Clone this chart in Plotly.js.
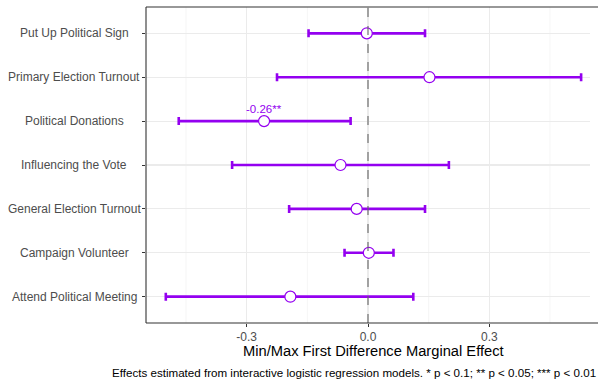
<!DOCTYPE html>
<html>
<head>
<meta charset="utf-8">
<script src="https://cdn.plot.ly/plotly-3.0.1.min.js"></script>
<style>html,body{margin:0;padding:0;background:#fff;overflow:hidden;}#chart{width:598px;height:381px;}</style>
</head>
<body>
<div id="chart"></div>
<script>
// Categories listed bottom to top
const outcomes = ["Attend Political Meeting", "Campaign Volunteer", "General Election Turnout", "Influencing the Vote", "Political Donations", "Primary Election Turnout", "Put Up Political Sign"];
const estimate = [-0.192, 0.002, -0.028, -0.068, -0.257, 0.152, -0.003];
const lower = [-0.500, -0.058, -0.195, -0.336, -0.468, -0.225, -0.147];
const upper = [0.112, 0.063, 0.141, 0.200, -0.043, 0.527, 0.141];
const sigLabels = ["", "", "", "", "-0.26**", "", ""];
const xTickVals = [-0.3, 0, 0.3];
const xTickText = ["-0.3", "0.0", "0.3"];
const minorVals = [-0.45, -0.15, 0.15, 0.45];

const purple = "#9400F0";
const plotL = 146, plotR = 590, plotT = 7, plotB = 323;
const pw = plotR - plotL, ph = plotB - plotT;
const px = v => (v - plotL) / pw;
const py = v => (plotB - v) / ph;

const yIdx = outcomes.map((_, i) => i);

const trace = {
  type: "scatter", mode: "markers",
  x: estimate, y: yIdx,
  error_x: {
    type: "data", symmetric: false,
    array: upper.map((u, i) => u - estimate[i]),
    arrayminus: lower.map((l, i) => estimate[i] - l),
    color: purple, thickness: 2.6, width: 4
  },
  marker: {symbol: "circle", size: 11, color: "#ffffff", line: {color: purple, width: 1.2}},
  hoverinfo: "skip", showlegend: false, cliponaxis: false
};

const annotations = [];
outcomes.forEach((c, i) => {
  annotations.push({xref: "paper", yref: "y", x: px(74), y: i, text: c, showarrow: false,
    xanchor: "center", yanchor: "middle", font: {family: "Liberation Sans, Arial", size: 12, color: "#4D4D4D"}});
  if (sigLabels[i]) {
    annotations.push({xref: "x", yref: "y", x: estimate[i], y: i, text: sigLabels[i], showarrow: false,
      xanchor: "center", yanchor: "middle", yshift: 12, font: {family: "Liberation Sans, Arial", size: 11.5, color: purple}});
  }
});
annotations.push({xref: "paper", yref: "paper", x: px(373), y: py(351), text: "Min/Max First Difference Marginal Effect",
  showarrow: false, xanchor: "center", yanchor: "middle", font: {family: "Liberation Sans, Arial", size: 14.7, color: "#000"}});
annotations.push({xref: "paper", yref: "paper", x: px(110), y: py(372), text: "Effects estimated from interactive logistic regression models. * p < 0.1; ** p < 0.05; *** p < 0.01",
  showarrow: false, xanchor: "left", yanchor: "middle", font: {family: "Liberation Sans, Arial", size: 11.6, color: "#000"}});

const shapes = [];
minorVals.forEach(v => shapes.push({type: "line", xref: "x", yref: "paper", x0: v, x1: v, y0: 0, y1: 1,
  line: {color: "#F2F2F2", width: 0.8}, layer: "below"}));
shapes.push({type: "line", xref: "x", yref: "paper", x0: 0, x1: 0, y0: 0, y1: 1,
  line: {color: "#666666", width: 1.1, dash: "dash"}, layer: "above"});
// panel border: top, bottom, left
shapes.push({type: "line", xref: "paper", yref: "paper", x0: 0, x1: px(600), y0: 1, y1: 1, line: {color: "#333", width: 1.1}, layer: "above"});
shapes.push({type: "line", xref: "paper", yref: "paper", x0: 0, x1: px(600), y0: 0, y1: 0, line: {color: "#333", width: 1.1}, layer: "above"});
shapes.push({type: "line", xref: "paper", yref: "paper", x0: 0, x1: 0, y0: 0, y1: 1, line: {color: "#333", width: 1.1}, layer: "above"});

const layout = {
  width: 598, height: 381,
  margin: {l: plotL, r: 598 - plotR, t: plotT, b: 381 - plotB, pad: 0},
  paper_bgcolor: "#fff", plot_bgcolor: "#fff",
  xaxis: {
    range: [(plotL - 368) / 404.4, (plotR - 368) / 404.4],
    tickvals: xTickVals, ticktext: xTickText,
    ticks: "outside", ticklen: 3, tickcolor: "#333", tickwidth: 1,
    tickfont: {family: "Liberation Sans, Arial", size: 12, color: "#4D4D4D"},
    showgrid: true, gridcolor: "#EBEBEB", gridwidth: 1.1,
    zeroline: false, showline: false
  },
  yaxis: {
    range: [-0.6, 6.6],
    tickvals: yIdx, showticklabels: false,
    ticks: "outside", ticklen: 3, tickcolor: "#333", tickwidth: 1,
    showgrid: true, gridcolor: "#EBEBEB", gridwidth: 1.1,
    zeroline: false, showline: false
  },
  annotations: annotations,
  shapes: shapes,
  font: {family: "Liberation Sans, Arial"}
};

Plotly.newPlot("chart", [trace], layout, {staticPlot: true, displayModeBar: false});
</script>
</body>
</html>
